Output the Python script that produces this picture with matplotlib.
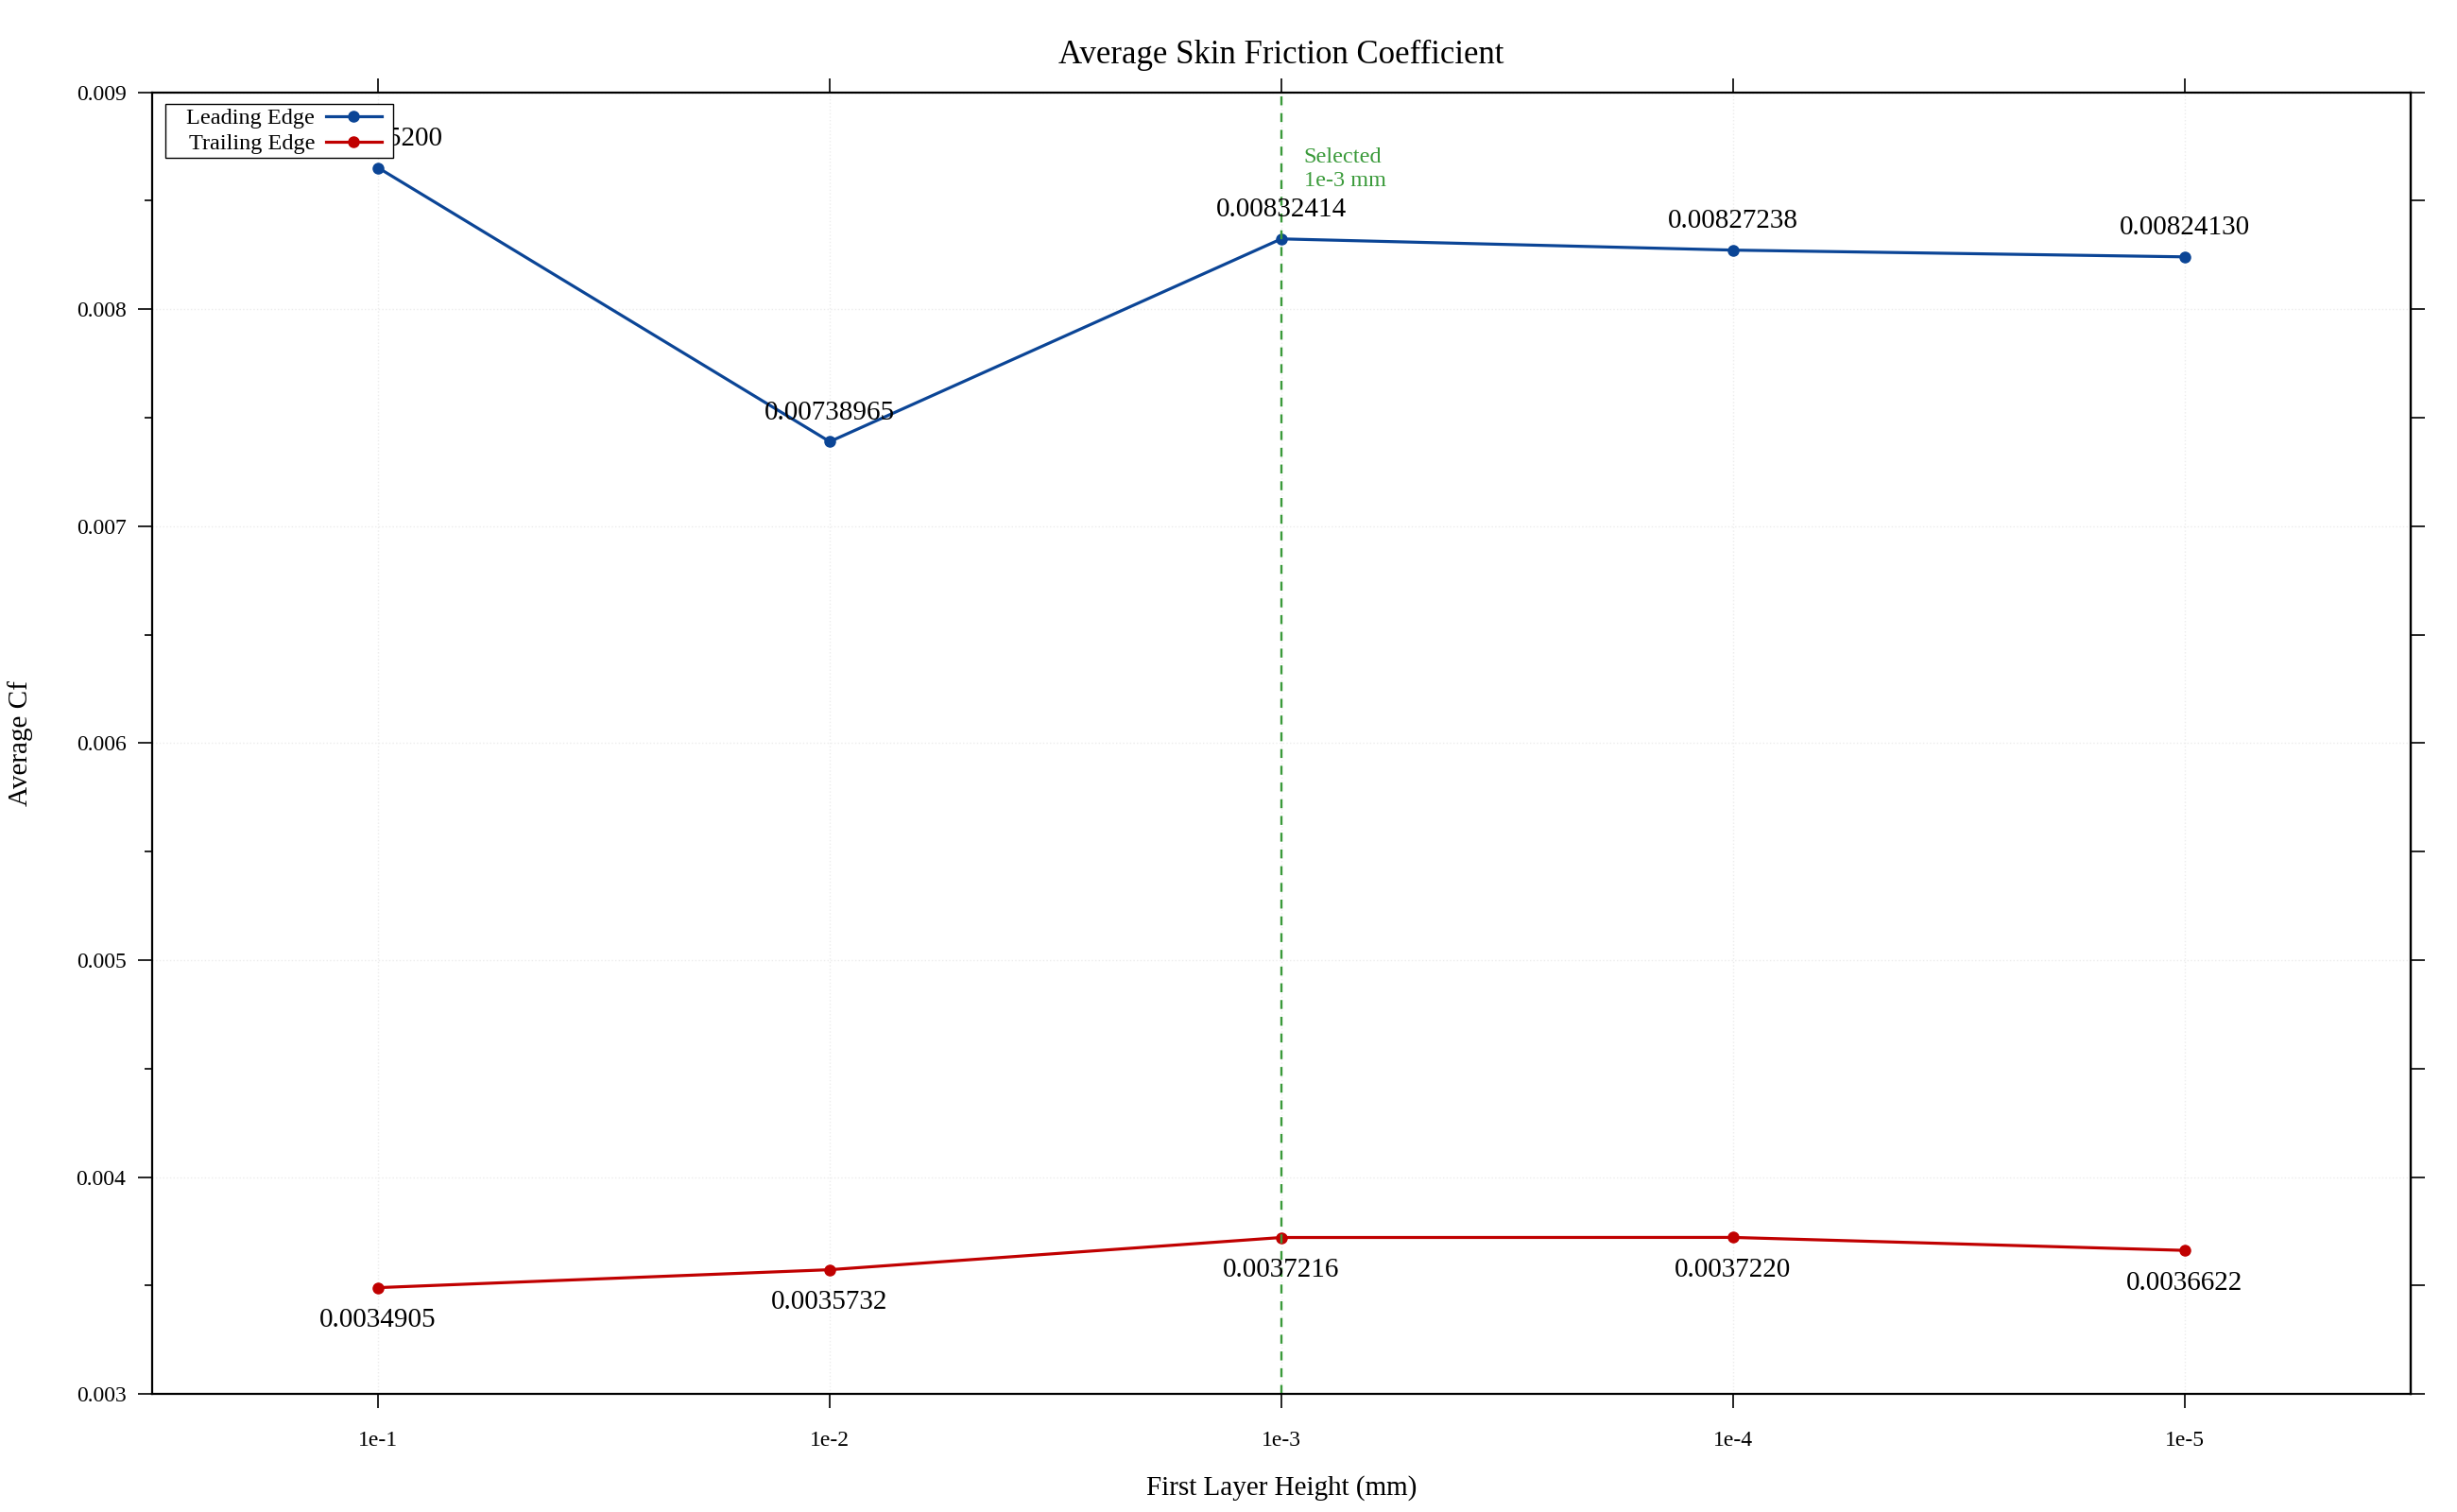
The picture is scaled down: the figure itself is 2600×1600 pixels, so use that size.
import matplotlib
matplotlib.use("Agg")
from matplotlib import pyplot as plt
from matplotlib.ticker import MultipleLocator, FormatStrFormatter
from matplotlib.patches import Rectangle

plt.rcParams['font.family'] = ['Liberation Serif', 'DejaVu Serif']

heights = ["1e-1", "1e-2", "1e-3", "1e-4", "1e-5"]
leading = [0.00865200, 0.00738965, 0.00832414, 0.00827238, 0.00824130]
trailing = [0.0034905, 0.0035732, 0.0037216, 0.0037220, 0.0036622]
leading_labels = ["0.00865200", "0.00738965", "0.00832414", "0.00827238", "0.00824130"]
trailing_labels = ["0.0034905", "0.0035732", "0.0037216", "0.0037220", "0.0036622"]
selected = 2

blue = "#0b4596"
red = "#c00000"
green = "#3a9a3a"

fig = plt.figure(figsize=(26, 16), dpi=100)
ax = fig.add_axes([0.062, 0.078, 0.919, 0.861])

x = list(range(len(heights)))
ax.plot(x, leading, "-o", color=blue, lw=2.3, ms=8, label="Leading Edge")
ax.plot(x, trailing, "-o", color=red, lw=2.3, ms=8, label="Trailing Edge")

for i in x:
    ax.annotate(leading_labels[i], (i, leading[i]), xytext=(0, 22), textcoords="offset points",
                ha="center", va="center", fontsize=21)
    ax.annotate(trailing_labels[i], (i, trailing[i]), xytext=(0, -25), textcoords="offset points",
                ha="center", va="center", fontsize=21)

ax.axvline(selected, color=green, ls=(0, (4, 3.5)), lw=1.7)
ax.annotate("Selected\n1e-3 mm", (selected, 0.009), xytext=(17, -42), textcoords="offset points",
            ha="left", va="top", fontsize=17.5, color=green, linespacing=1.25)

ax.set_xlim(-0.5, 4.5)
ax.set_ylim(0.003, 0.009)
ax.set_xticks(x)
ax.set_xticklabels(heights)
ax.yaxis.set_major_locator(MultipleLocator(0.001))
ax.yaxis.set_minor_locator(MultipleLocator(0.0005))
ax.yaxis.set_major_formatter(FormatStrFormatter("%.3f"))

ax.tick_params(which="both", direction="out", top=True, right=False, labelsize=17, width=1.2)
ax.tick_params(which="major", length=11)
ax.tick_params(which="minor", length=5.5)
ax.tick_params(axis="y", pad=9)
ax.tick_params(axis="x", pad=17)

# right side: minor ticks as long as the major ones
sec = ax.secondary_yaxis("right")
sec.yaxis.set_major_locator(MultipleLocator(0.001))
sec.yaxis.set_minor_locator(MultipleLocator(0.0005))
sec.tick_params(which="both", direction="out", length=11, width=1.2, labelright=False)
sec.spines["right"].set_linewidth(1.6)

for s in ax.spines.values():
    s.set_linewidth(1.6)
ax.grid(True, ls=":", color="#ececec", lw=1)

ax.set_title("Average Skin Friction Coefficient", fontsize=25, pad=22)
ax.set_xlabel("First Layer Height (mm)", fontsize=21)
ax.xaxis.set_label_coords(0.5, -0.062)
ax.xaxis.label.set_va("top")
ax.set_ylabel("Average Cf", fontsize=21)
ax.yaxis.set_label_coords(-0.053, 0.5)

leg = ax.legend(loc="upper left", fontsize=17.5, markerfirst=False, frameon=False,
                borderpad=0, labelspacing=0.2, handlelength=2.4, handletextpad=0.5,
                borderaxespad=0, bbox_to_anchor=(0.0151, 0.988))

# white box behind the legend, wider on the left as in the original
fig.canvas.draw()
bb = leg.get_window_extent()
inv = fig.transFigure.inverted()
(x0, y0), (x1, y1) = inv.transform([(bb.x0 - 22, bb.y0 - 4), (bb.x1 + 12, bb.y1 + 4)])
box = Rectangle((x0, y0), x1 - x0, y1 - y0, transform=fig.transFigure,
                facecolor="white", edgecolor="black", lw=1.0, zorder=4.5, clip_on=False)
ax.add_patch(box)

plt.savefig("out.png")
